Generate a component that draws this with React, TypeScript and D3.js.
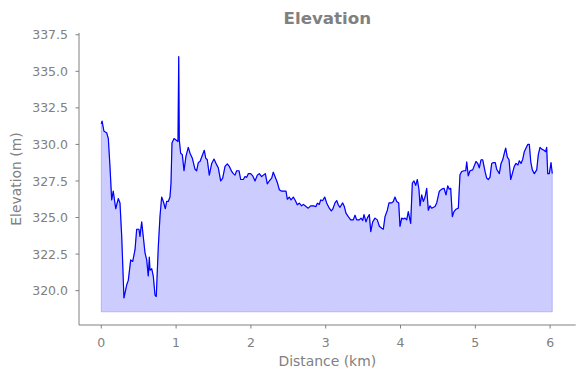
import React from "react";
import * as d3 from "d3";

const distanceKm: number[] = [
  0.0, 0.01, 0.036, 0.072, 0.094, 0.116, 0.139, 0.16, 0.193, 0.227, 0.25, 0.273, 0.303, 0.34, 0.361, 0.393,
  0.42, 0.451, 0.473, 0.504, 0.517, 0.54, 0.561, 0.584, 0.607, 0.628, 0.642, 0.651, 0.674, 0.695, 0.718, 0.735,
  0.762, 0.785, 0.807, 0.829, 0.856, 0.874, 0.896, 0.918, 0.932, 0.945, 0.972, 0.999, 1.025, 1.035, 1.043, 1.061,
  1.083, 1.106, 1.132, 1.163, 1.186, 1.217, 1.253, 1.275, 1.297, 1.32, 1.35, 1.377, 1.396, 1.417, 1.444, 1.476,
  1.507, 1.543, 1.564, 1.596, 1.623, 1.654, 1.684, 1.711, 1.743, 1.765, 1.787, 1.81, 1.841, 1.864, 1.898, 1.921,
  1.944, 1.965, 1.997, 2.024, 2.055, 2.086, 2.112, 2.144, 2.166, 2.193, 2.219, 2.246, 2.278, 2.299, 2.326, 2.353,
  2.38, 2.412, 2.443, 2.469, 2.487, 2.513, 2.536, 2.567, 2.594, 2.62, 2.647, 2.679, 2.701, 2.737, 2.767, 2.799,
  2.834, 2.87, 2.888, 2.914, 2.933, 2.96, 2.987, 3.013, 3.048, 3.075, 3.094, 3.124, 3.147, 3.168, 3.191, 3.227,
  3.249, 3.271, 3.302, 3.334, 3.369, 3.392, 3.414, 3.449, 3.472, 3.495, 3.512, 3.539, 3.556, 3.583, 3.602, 3.628,
  3.659, 3.69, 3.717, 3.749, 3.77, 3.793, 3.824, 3.846, 3.882, 3.904, 3.926, 3.949, 3.976, 3.993, 4.016, 4.037,
  4.06, 4.083, 4.104, 4.136, 4.158, 4.18, 4.203, 4.225, 4.247, 4.261, 4.283, 4.305, 4.328, 4.35, 4.372, 4.394,
  4.417, 4.461, 4.484, 4.519, 4.551, 4.582, 4.608, 4.631, 4.652, 4.671, 4.693, 4.715, 4.742, 4.773, 4.795, 4.818,
  4.849, 4.872, 4.885, 4.906, 4.929, 4.965, 4.983, 5.009, 5.032, 5.053, 5.076, 5.099, 5.13, 5.152, 5.174, 5.196,
  5.219, 5.241, 5.267, 5.286, 5.321, 5.344, 5.366, 5.388, 5.406, 5.428, 5.451, 5.473, 5.495, 5.521, 5.544, 5.571,
  5.588, 5.611, 5.634, 5.655, 5.678, 5.701, 5.722, 5.741, 5.762, 5.789, 5.821, 5.842, 5.865, 5.888, 5.918, 5.941,
  5.954, 5.968, 5.989, 6.012, 6.029,
];

const elevationM: number[] = [
  331.4, 331.6, 330.9, 330.8, 330.4, 328.5, 326.2, 326.8, 325.6, 326.3, 326.0, 323.7, 319.5, 320.4, 320.7, 322.1,
  322.0, 322.8, 324.2, 324.2, 323.7, 324.7, 323.7, 322.6, 322.1, 321.0, 322.3, 321.4, 321.5, 321.0, 319.7, 319.6,
  323.0, 325.1, 326.4, 326.1, 325.6, 326.1, 326.1, 326.4, 327.35, 330.1, 330.4, 330.3, 330.2, 336.0, 330.3, 329.4,
  329.3, 328.2, 329.2, 329.8, 329.4, 329.06, 328.3, 328.2, 328.76, 328.83, 329.24, 329.6, 329.06, 328.95, 327.9, 328.7,
  329.0, 328.6, 328.4, 327.5, 327.7, 328.5, 328.67, 328.5, 328.15, 328.0, 327.9, 328.2, 328.2, 327.6, 327.6, 327.8,
  327.75, 328.0, 328.0, 327.85, 327.5, 327.9, 328.0, 327.8, 327.9, 328.0, 327.3, 327.5, 327.7, 328.1, 327.76, 327.4,
  326.9, 326.8, 326.8, 326.8, 326.25, 326.4, 326.2, 326.4, 326.16, 325.87, 325.98, 325.8, 325.9, 325.75, 325.64, 325.8,
  325.8, 325.75, 325.98, 325.9, 326.2, 326.16, 326.4, 326.0, 325.64, 325.45, 325.57, 326.0, 326.16, 325.87, 325.7, 326.0,
  325.75, 325.3, 325.06, 324.84, 324.84, 325.16, 324.84, 324.84, 324.96, 324.8, 325.2, 324.7, 324.96, 325.2, 324.04, 324.7,
  324.96, 324.84, 324.4, 324.27, 324.2, 325.06, 325.5, 326.0, 326.0, 326.1, 326.4, 326.1, 326.0, 324.4, 324.96, 324.9,
  324.96, 324.84, 325.4, 324.6, 327.35, 327.5, 327.2, 327.6, 326.9, 325.8, 326.55, 326.1, 326.4, 327.0, 325.5, 325.8,
  325.64, 325.75, 326.0, 326.8, 326.94, 327.0, 326.55, 327.17, 326.94, 327.0, 325.06, 325.4, 325.57, 325.64, 327.92, 328.15,
  328.2, 328.2, 328.8, 327.85, 328.2, 328.26, 328.5, 328.83, 328.7, 328.4, 328.95, 328.95, 328.15, 327.7, 327.6, 327.75,
  328.7, 328.76, 328.76, 328.3, 328.0, 328.7, 328.95, 329.4, 329.75, 329.13, 328.95, 327.6, 328.0, 328.5, 328.7, 328.6,
  328.88, 328.7, 328.99, 329.5, 329.75, 330.0, 330.0, 328.83, 328.26, 328.0, 328.26, 329.3, 329.8, 329.68, 329.6, 329.5,
  329.8, 328.0, 328.0, 328.76, 328.0,
];

const fillBase = 318.55;
const xTicks: number[] = [0, 1, 2, 3, 4, 5, 6];
const yTicks: number[] = [320, 322.5, 325, 327.5, 330, 332.5, 335, 337.5];
const titleText = "Elevation";
const xLabel = "Distance (km)";
const yLabel = "Elevation (m)";

const W = 584;
const H = 378;
const left = 79;
const right = 575.7;
const top = 33;
const bottom = 325;

export default function App() {
  const x = d3.scaleLinear().domain([-0.298, 6.342]).range([left, right]);
  const y = d3.scaleLinear().domain([317.65, 337.62]).range([bottom, top]);
  const pts: [number, number][] = distanceKm.map((d, i) => [d, elevationM[i]]);
  const line = d3.line<[number, number]>().x((d) => x(d[0])).y((d) => y(d[1]));
  const area = d3
    .area<[number, number]>()
    .x((d) => x(d[0]))
    .y0(() => y(fillBase))
    .y1((d) => y(d[1]));
  const gray = "#808080";
  const font = "'DejaVu Sans', sans-serif";
  return (
    <svg
      width={W}
      height={H}
      style={{ position: "absolute", left: 0, top: 0, background: "#fff" }}
      fontFamily={font}
    >
      <path d={area(pts) || ""} fill="#0000ff" fillOpacity={0.2} stroke="#0000ff" strokeOpacity={0.2} strokeWidth={1} />
      <path d={line(pts) || ""} fill="none" stroke="#0000ff" strokeWidth={1.2} strokeLinejoin="round" />
      <line x1={left} x2={left} y1={top} y2={bottom} stroke={gray} strokeWidth={1} />
      <line x1={left} x2={right} y1={bottom} y2={bottom} stroke={gray} strokeWidth={1} />
      {xTicks.map((t) => (
        <g key={"x" + t}>
          <line x1={x(t)} x2={x(t)} y1={bottom} y2={bottom + 3.5} stroke={gray} strokeWidth={1} />
          <text x={x(t)} y={346.5} textAnchor="middle" fontSize={12.5} fill={gray}>
            {String(t)}
          </text>
        </g>
      ))}
      {yTicks.map((t) => (
        <g key={"y" + t}>
          <line x1={left - 3.5} x2={left} y1={y(t)} y2={y(t)} stroke={gray} strokeWidth={1} />
          <text x={68} y={y(t) + 4.6} textAnchor="end" fontSize={12.5} fill={gray}>
            {t.toFixed(1)}
          </text>
        </g>
      ))}
      <text x={(left + right) / 2} y={366} textAnchor="middle" fontSize={13.9} fill={gray}>
        {xLabel}
      </text>
      <text
        transform={`translate(20.5, ${(top + bottom) / 2}) rotate(-90)`}
        textAnchor="middle"
        fontSize={13.9}
        fill={gray}
      >
        {yLabel}
      </text>
      <text x={(left + right) / 2} y={24} textAnchor="middle" fontSize={16.7} fontWeight="bold" fill={gray}>
        {titleText}
      </text>
    </svg>
  );
}
